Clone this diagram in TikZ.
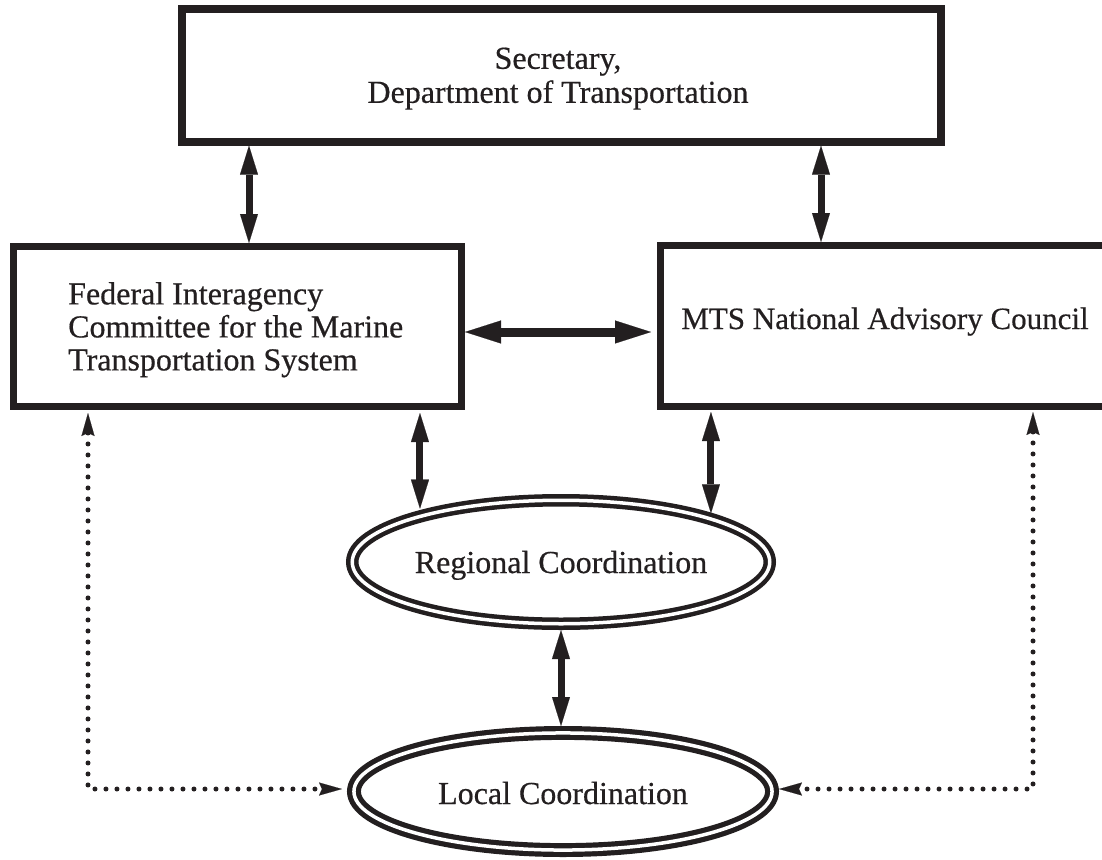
\documentclass[tikz,border=0pt]{standalone}
\usepackage{fontspec}
\setmainfont{Liberation Serif}[FakeBold=0.5]
\usetikzlibrary{arrows.meta,shapes.geometric}
\definecolor{ink}{RGB}{35,31,32}
\tikzset{
  txt/.style={font=\fontsize{32}{33}\selectfont, text=ink, inner sep=0pt},
  box/.style={draw=ink, line width=7.3pt, inner sep=0pt, outer sep=3.65pt, fill=white},
  oval/.style={ellipse, draw=ink, double=white, inner sep=0pt, font=\fontsize{32}{33}\selectfont, text=ink},
  biv/.style={draw=ink, line width=7pt, >={Triangle[length=29pt,width=18pt,line width=0.1pt]}, <->},
  bih/.style={draw=ink, line width=9pt, >={Triangle[length=36pt,width=23pt,line width=0.1pt]}, <->},
  dotv/.style={draw=ink, line width=5pt, line cap=round, dash pattern=on 0pt off 11pt,
    >={Stealth[length=23pt,width=13pt,inset=3pt,line width=0.1pt]}, <->}
}
\begin{document}
\begin{tikzpicture}[x=1pt,y=-1pt]
\path[use as bounding box, clip] (0,0) rectangle (1102,859);
\fill[white] (0,0) rectangle (1102,859);

% boxes
\node[box, minimum width=759pt, minimum height=133pt] (sec) at (561.5,75.5) {};
\node[txt, anchor=north, align=center, font=\fontsize{32}{34}\selectfont] (sect) at (558,47.4)
  {Secretary,\\Department of Transportation};

\node[box, minimum width=447.7pt, minimum height=159.7pt] (fic) at (237.5,326.5) {};
\node[txt, anchor=north west, align=left] (fict) at (68,282)
  {Federal Interagency\\Committee for the Marine\\Transportation System};

\node[box, minimum width=450.7pt, minimum height=160.7pt] (nac) at (886,326) {};
\node[txt, anchor=base, font=\fontsize{31}{33}\selectfont] (nact) at (885,329)
  {MTS National Advisory Council};

% ellipses
\node[oval, line width=4.5pt, double distance=3.5pt, outer sep=6.25pt,
  minimum width=417.5pt, minimum height=123.5pt, text height=22pt, text depth=0pt]
  (reg) at (561,562) {Regional Coordination};
\node[oval, line width=5.2pt, double distance=3.5pt, outer sep=6.95pt,
  minimum width=418.1pt, minimum height=117.1pt, text height=25pt, text depth=0pt]
  (loc) at (563,791.5) {Local Coordination};

% solid connectors
\draw[biv] ([xshift=11.5pt]fic.north) -- ([xshift=11.5pt]fic.north |- sec.south);
\draw[biv] ([xshift=-65pt]nac.north) -- ([xshift=-65pt]nac.north |- sec.south);
\draw[bih, shorten >=6pt] ([yshift=-5.5pt]fic.east) -- ([yshift=-5.5pt]fic.east -| nac.west);
\draw[biv, shorten <=3pt, shorten >=2pt] (reg.160 |- fic.south) -- (reg.160);
\draw[biv, shorten <=2pt] (reg.18 |- nac.south) -- (reg.18);
\draw[biv] (reg.south) -- (reg.south |- loc.north);

% dotted connectors
\coordinate (cl) at (88,789);
\coordinate (cr) at (1033,789);
\draw[dotv, shorten <=3pt, shorten >=5pt] (cl |- fic.south) -- (cl) -- (cl -| loc.west);
\draw[dotv, shorten <=2pt] (cr |- nac.south) -- (cr) -- (cr -| loc.east);
\end{tikzpicture}
\end{document}
